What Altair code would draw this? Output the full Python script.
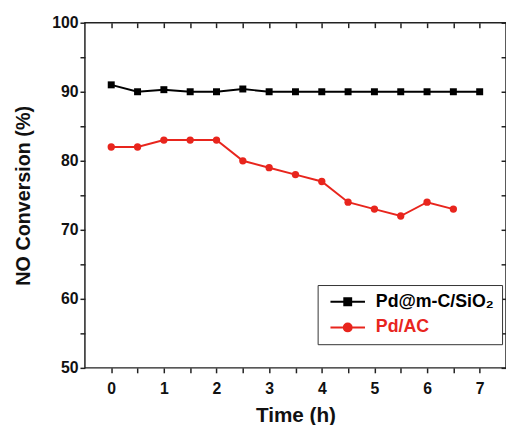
import altair as alt
import pandas as pd

series = ["Pd@m-C/SiO₂", "Pd/AC"]
colors = ["#000000", "#e8251d"]

time_a = [0, 0.5, 1, 1.5, 2, 2.5, 3, 3.5, 4, 4.5, 5, 5.5, 6, 6.5, 7]
conv_a = [91, 90, 90.3, 90, 90, 90.4, 90, 90, 90, 90, 90, 90, 90, 90, 90]

time_b = [0, 0.5, 1, 1.5, 2, 2.5, 3, 3.5, 4, 4.5, 5, 5.5, 6, 6.5]
conv_b = [82, 82, 83, 83, 83, 80, 79, 78, 77, 74, 73, 72, 74, 73]

x_ticks = [0, 0.5, 1, 1.5, 2, 2.5, 3, 3.5, 4, 4.5, 5, 5.5, 6, 6.5, 7]
y_ticks = [50, 55, 60, 65, 70, 75, 80, 85, 90, 95, 100]

df = pd.concat([
    pd.DataFrame({"t": time_a, "v": conv_a, "s": series[0]}),
    pd.DataFrame({"t": time_b, "v": conv_b, "s": series[1]}),
])

FONT = "Liberation Sans"
xs = alt.Scale(domain=[-0.5, 7.5], nice=False, zero=False)
ys = alt.Scale(domain=[50, 100], nice=False, zero=False)
cs = alt.Scale(domain=series, range=colors)

x_bottom = alt.Axis(values=x_ticks,
                    labelExpr="datum.value % 1 == 0 ? format(datum.value, 'd') : ''",
                    tickSize=5, tickWidth=1.5, tickColor="#222", domain=False, grid=False,
                    labelFont=FONT, labelFontSize=16, labelFontWeight="bold", labelColor="#111",
                    labelPadding=8, title="Time (h)", titleFont=FONT, titleFontSize=21,
                    titleFontWeight="bold", titleColor="#111", titlePadding=8)
y_left = alt.Axis(values=y_ticks,
                  labelExpr="datum.value % 10 == 0 ? format(datum.value, 'd') : ''",
                  tickSize=5, tickWidth=1.5, tickColor="#222", domain=False, grid=False,
                  labelFont=FONT, labelFontSize=16, labelFontWeight="bold", labelColor="#111",
                  labelPadding=2, title="NO Conversion (%)", titleFont=FONT, titleFontSize=20,
                  titleFontWeight="bold", titleColor="#111", titlePadding=19)
x_top = alt.Axis(orient="top", values=x_ticks, labels=False, title=None, tickSize=5,
                 tickWidth=1.5, tickColor="#222", domain=False, grid=False, offset=-5)
y_right = alt.Axis(orient="right", values=y_ticks, labels=False, title=None, tickSize=5,
                   tickWidth=1.5, tickColor="#222", domain=False, grid=False, offset=-5)

lines = alt.Chart(df).mark_line(strokeWidth=2).encode(
    x=alt.X("t:Q", scale=xs, axis=x_bottom),
    y=alt.Y("v:Q", scale=ys, axis=y_left),
    color=alt.Color("s:N", scale=cs, legend=None),
)

points_a = alt.Chart(df).transform_filter(
    alt.datum.s == series[0]
).mark_point(filled=True, size=50, opacity=1, shape="square").encode(
    x=alt.X("t:Q", scale=xs, axis=x_top),
    y=alt.Y("v:Q", scale=ys, axis=y_right),
    color=alt.Color("s:N", scale=cs, legend=None),
)

points_b = alt.Chart(df).transform_filter(
    alt.datum.s == series[1]
).mark_point(filled=True, size=55, opacity=1, shape="circle").encode(
    x=alt.X("t:Q", scale=xs, axis=None),
    y=alt.Y("v:Q", scale=ys, axis=None),
    color=alt.Color("s:N", scale=cs, legend=None),
)

# legend symbols: line segment with marker (units: 4 px each at symbolSize 64)
sq = "M-1,0H7.75M2.5,-0.875H4.25V0.875H2.5Z"
ci = "M-1,0H7.75M4.375,0A1,1,0,1,1,2.375,0A1,1,0,1,1,4.375,0Z"
leg = alt.Legend(orient="none", legendX=236, legendY=266, title=None,
                 strokeColor="#333", padding=8, fillColor="white",
                 labelFont=FONT, labelFontSize=18, labelFontWeight="bold",
                 labelColor={"expr": "datum.label == 'Pd/AC' ? '#e8251d' : '#000000'"},
                 symbolSize=64, symbolStrokeWidth=2, labelOffset=33, rowPadding=8,
                 symbolOpacity=1)

legend_layer = alt.Chart(df).transform_filter("false").mark_point(filled=True).encode(
    x=alt.X("t:Q", scale=xs, axis=None),
    y=alt.Y("v:Q", scale=ys, axis=None),
    fill=alt.Fill("s:N", scale=cs, legend=leg),
    stroke=alt.Stroke("s:N", scale=cs, legend=leg),
    shape=alt.Shape("s:N", scale=alt.Scale(domain=series, range=[sq, ci]), legend=leg),
)

chart = alt.layer(lines, points_a, points_b, legend_layer).resolve_axis(
    x="independent", y="independent"
).resolve_scale(
    fill="independent", stroke="independent", shape="independent"
).properties(
    width=427, height=350,
    padding={"left": 78, "top": 12, "right": 0, "bottom": 55},
    autosize=alt.AutoSizeParams(type="none"),
).configure_view(stroke="#222", strokeWidth=1.5)

chart.save("out.html", embed_options={"renderer": "svg", "actions": False})
